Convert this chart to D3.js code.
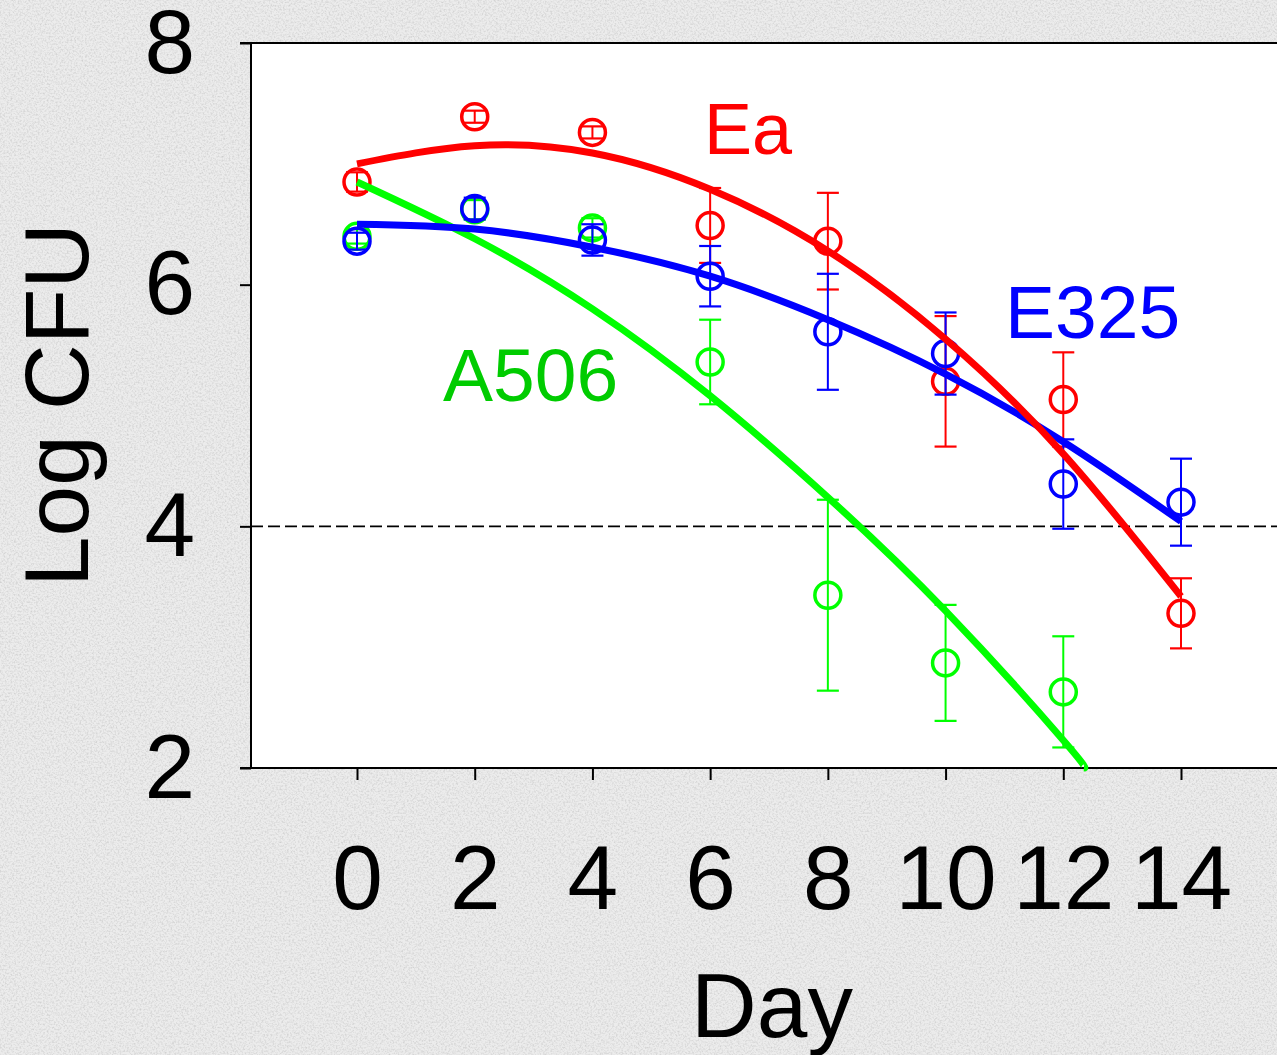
<!DOCTYPE html>
<html lang="en">
<head>
    <meta charset="UTF-8">
    <title>Log CFU by day</title>
    <script src="https://cdn.jsdelivr.net/npm/d3@7"></script>
    <style>
        body { margin: 0; background: #eaeaea; }
        svg { display: block; }
        text { font-family: 'Liberation Sans', Arial, sans-serif; }
    </style>
</head>
<body>
<script>
    // measured points (mean +/- error) per strain
    const days = [0, 2, 4, 6, 8, 10, 12, 14];
    const eaMean = [6.85, 7.39, 7.26, 6.49, 6.36, 5.20, 5.05, 3.28];
    const eaErr = [0.08, 0.05, 0.05, 0.31, 0.40, 0.54, 0.39, 0.29];
    const e325Mean = [6.36, 6.63, 6.37, 6.07, 5.61, 5.43, 4.35, 4.20];
    const e325Err = [0.07, 0.09, 0.13, 0.25, 0.48, 0.34, 0.37, 0.36];
    const a506Days = [0, 2, 4, 6, 8, 10, 12];
    const a506Mean = [6.40, 6.62, 6.47, 5.36, 3.43, 2.87, 2.63];
    const a506Err = [0.06, 0.08, 0.08, 0.35, 0.79, 0.48, 0.46];

    // fitted curves
    const fitDays = [0, 2, 4, 6, 8, 10, 12, 14];
    const eaFit = [7.00, 7.15, 7.09, 6.79, 6.28, 5.55, 4.60, 3.42];
    const e325Fit = [6.50, 6.46, 6.31, 6.07, 5.71, 5.26, 4.70, 4.04];
    const a506FitDays = [0, 2, 4, 6, 8, 10, 12, 12.35];
    const a506Fit = [6.85, 6.38, 5.80, 5.08, 4.24, 3.30, 2.23, 2.00];

    const xTicks = [0, 2, 4, 6, 8, 10, 12, 14];
    const yTicks = [2, 4, 6, 8];
    const threshold = 4;

    const W = 1277, H = 1055;
    const plotLeft = 251, plotTop = 43, plotBottom = 768;

    const svg = d3.select("body").append("svg").attr("width", W).attr("height", H);

    // grainy grey backdrop
    const defs = svg.append("defs");
    const f = defs.append("filter").attr("id", "grain").attr("x", 0).attr("y", 0).attr("width", "100%").attr("height", "100%");
    f.append("feTurbulence").attr("type", "fractalNoise").attr("baseFrequency", 0.55).attr("numOctaves", 3).attr("seed", 7);
    f.append("feColorMatrix").attr("type", "matrix")
        .attr("values", "0 0 0 0 0.6  0 0 0 0 0.6  0 0 0 0 0.6  1.8 0 0 0 -0.75");
    svg.append("rect").attr("width", W).attr("height", H).attr("fill", "#ececec");
    svg.append("rect").attr("width", W).attr("height", H).attr("filter", "url(#grain)");

    const x = d3.scaleLinear().domain([0, 14]).range([357, 1181]);
    const y = d3.scaleLinear().domain([2, 8]).range([plotBottom, plotTop]);

    svg.append("rect").attr("x", plotLeft).attr("y", plotTop)
        .attr("width", W - plotLeft).attr("height", plotBottom - plotTop).attr("fill", "#fff");

    // axes
    const xAxis = svg.append("g").attr("transform", `translate(0,${plotBottom})`)
        .call(d3.axisBottom(x).tickValues(xTicks).tickSize(12).tickPadding(64).tickSizeOuter(0));
    const yAxis = svg.append("g").attr("transform", `translate(${plotLeft},0)`)
        .call(d3.axisLeft(y).tickValues(yTicks).tickFormat(d3.format("d"))
            .tickSize(11).tickPadding(45).tickSizeOuter(0));
    [xAxis, yAxis].forEach(g => {
        g.select(".domain").remove();
        g.selectAll("line").attr("stroke", "#000").attr("stroke-width", 2);
        g.selectAll("text").attr("font-size", 91).attr("fill", "#000")
            .style("font-family", "'Liberation Sans', Arial, sans-serif");
    });

    svg.append("line").attr("x1", 240).attr("x2", W).attr("y1", plotBottom).attr("y2", plotBottom)
        .attr("stroke", "#000").attr("stroke-width", 2);
    svg.append("line").attr("x1", 240).attr("x2", W).attr("y1", plotTop).attr("y2", plotTop)
        .attr("stroke", "#000").attr("stroke-width", 2);
    svg.append("line").attr("x1", plotLeft).attr("x2", plotLeft).attr("y1", plotTop).attr("y2", plotBottom)
        .attr("stroke", "#000").attr("stroke-width", 2);

    // detection limit
    svg.append("line").attr("x1", plotLeft).attr("x2", W).attr("y1", y(threshold)).attr("y2", y(threshold))
        .attr("stroke", "#000").attr("stroke-width", 1.8).attr("stroke-dasharray", "12,5");

    const series = [
        {name: "A506", color: "#00ff00", days: a506Days, mean: a506Mean, err: a506Err},
        {name: "Ea", color: "#ff0000", days: days, mean: eaMean, err: eaErr},
        {name: "E325", color: "#0000ff", days: days, mean: e325Mean, err: e325Err}
    ];

    series.forEach(s => {
        const pts = s.days.map((d, i) => ({d, m: s.mean[i], e: s.err[i]}));
        const g = svg.append("g").attr("stroke", s.color).attr("fill", "none");
        g.selectAll(".bar").data(pts).join("line")
            .attr("x1", p => x(p.d)).attr("x2", p => x(p.d))
            .attr("y1", p => y(p.m + p.e)).attr("y2", p => y(p.m - p.e))
            .attr("stroke-width", 2);
        g.selectAll(".capT").data(pts).join("line")
            .attr("x1", p => x(p.d) - 11).attr("x2", p => x(p.d) + 11)
            .attr("y1", p => y(p.m + p.e)).attr("y2", p => y(p.m + p.e))
            .attr("stroke-width", 2.2);
        g.selectAll(".capB").data(pts).join("line")
            .attr("x1", p => x(p.d) - 11).attr("x2", p => x(p.d) + 11)
            .attr("y1", p => y(p.m - p.e)).attr("y2", p => y(p.m - p.e))
            .attr("stroke-width", 2.2);
        g.selectAll("circle").data(pts).join("circle")
            .attr("cx", p => x(p.d)).attr("cy", p => y(p.m)).attr("r", 13)
            .attr("stroke-width", 3.5);
    });

    const line = d3.line().x(p => x(p[0])).y(p => y(p[1])).curve(d3.curveNatural);
    const fits = [
        {color: "#00ff00", days: a506FitDays, vals: a506Fit},
        {color: "#0000ff", days: fitDays, vals: e325Fit},
        {color: "#ff0000", days: fitDays, vals: eaFit}
    ];
    fits.forEach(fit => {
        svg.append("path")
            .attr("d", line(fit.days.map((d, i) => [d, fit.vals[i]])))
            .attr("fill", "none").attr("stroke", fit.color).attr("stroke-width", 7);
    });

    // strain labels
    svg.append("text").attr("x", 704).attr("y", 154).attr("font-size", 72).attr("fill", "#ff0000").text("Ea");
    svg.append("text").attr("x", 1005).attr("y", 338).attr("font-size", 75).attr("fill", "#0000ff").text("E325");
    svg.append("text").attr("x", 443).attr("y", 401).attr("font-size", 75).attr("fill", "#00cc00").text("A506");

    // axis titles
    svg.append("text").attr("x", 772).attr("y", 1037).attr("text-anchor", "middle")
        .attr("font-size", 91).attr("fill", "#000").text("Day");
    svg.append("text").attr("transform", "translate(88,405) rotate(-90)").attr("text-anchor", "middle")
        .attr("font-size", 91).attr("fill", "#000").text("Log CFU");
</script>
</body>
</html>
